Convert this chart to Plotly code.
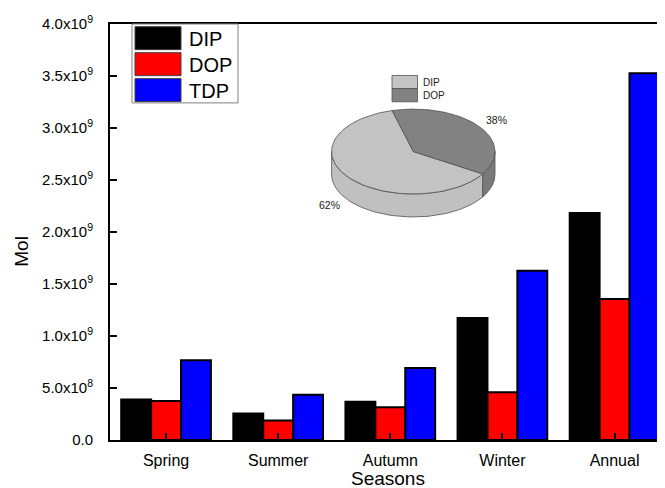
import numpy as np
import plotly.graph_objects as go

# ---------------- data ----------------
seasons = ["Spring", "Summer", "Autumn", "Winter", "Annual"]
dip = [3.89e8, 2.55e8, 3.67e8, 1.174e9, 2.182e9]
dop = [3.76e8, 1.87e8, 3.15e8, 4.59e8, 1.356e9]
tdp = [7.67e8, 4.34e8, 6.93e8, 1.628e9, 3.527e9]
series_names = ["DIP", "DOP", "TDP"]
series_colors = ["#000000", "#ff0000", "#0000ff"]

y_tickvals = [0, 5e8, 1e9, 1.5e9, 2e9, 2.5e9, 3e9, 3.5e9, 4e9]
y_ticktext = ["0.0", "5.0x10<sup>8</sup>", "1.0x10<sup>9</sup>", "1.5x10<sup>9</sup>",
              "2.0x10<sup>9</sup>", "2.5x10<sup>9</sup>", "3.0x10<sup>9</sup>",
              "3.5x10<sup>9</sup>", "4.0x10<sup>9</sup>"]

pie_labels = ["DIP", "DOP"]
pie_shares = [62, 38]
pie_colors = ["#c3c3c3", "#828282"]
pie_side_colors = ["#c0c0c0", "#7a7a7a"]

FONT = "Liberation Sans, Arial, sans-serif"
# the page body has an 8px margin, so the figure is placed at (8, 8)
OFF = 8
REF_L, REF_T, REF_R, REF_B = 110, 24, 665, 440.5   # plot area in window pixels
PW, PH = REF_R - REF_L, REF_B - REF_T
W, H = 665 - OFF, 488 - OFF
ML, MT = REF_L - OFF, REF_T - OFF
MR, MB = 0, H - MT - PH

fig = go.Figure()

for name, vals, col in zip(series_names, [dip, dop, tdp], series_colors):
    fig.add_trace(go.Bar(x=seasons, y=vals, name=name,
                         marker=dict(color=col, line=dict(color="black", width=2)),
                         showlegend=False))

# ---------------- pseudo-3D pie on overlay axes (pixel-like units) ----------------
def P(px, py):
    return px - REF_L, REF_B - py

cx, cy = P(413.3, 151.7)
rx, ry, depth = 81.7, 42.5, 23.0
start = 105.0  # parametric angle where DOP slice starts, runs clockwise
dop_span = 360.0 * pie_shares[1] / sum(pie_shares)
dop_end = start - dop_span
dip_end = dop_end - 360.0 * pie_shares[0] / sum(pie_shares)

def arc(a0, a1, n=80, dy=0.0):
    t = np.radians(np.linspace(a0, a1, n))
    return cx + rx * np.cos(t), cy + ry * np.sin(t) - dy

def side(a0, a1):
    x1, y1 = arc(a0, a1)
    x2, y2 = arc(a1, a0, dy=depth)
    return np.concatenate([x1, x2, x1[:1]]), np.concatenate([y1, y2, y1[:1]])

def wedge(a0, a1):
    x1, y1 = arc(a0, a1)
    return np.concatenate([[cx], x1, [cx]]), np.concatenate([[cy], y1, [cy]])

outline = dict(color="#505050", width=0.8)
sx, sy = side(-180, dop_end)
fig.add_trace(go.Scatter(x=sx, y=sy, xaxis="x2", yaxis="y2", mode="lines", fill="toself",
                         fillcolor=pie_side_colors[0], line=outline, showlegend=False, hoverinfo="skip"))
sx, sy = side(dop_end, 0)
fig.add_trace(go.Scatter(x=sx, y=sy, xaxis="x2", yaxis="y2", mode="lines", fill="toself",
                         fillcolor=pie_side_colors[1], line=outline, showlegend=False, hoverinfo="skip"))
wx, wy = wedge(dop_end, dip_end)
fig.add_trace(go.Scatter(x=wx, y=wy, xaxis="x2", yaxis="y2", mode="lines", fill="toself",
                         fillcolor=pie_colors[0], line=outline, showlegend=False, hoverinfo="skip"))
wx, wy = wedge(start, dop_end)
fig.add_trace(go.Scatter(x=wx, y=wy, xaxis="x2", yaxis="y2", mode="lines", fill="toself",
                         fillcolor=pie_colors[1], line=outline, showlegend=False, hoverinfo="skip"))

shapes = []
annotations = []

for txt, (px, py) in zip([f"{pie_shares[1]}%", f"{pie_shares[0]}%"], [(496, 120), (329.5, 205.5)]):
    x, y = P(px, py)
    annotations.append(dict(x=x, y=y, xref="x2", yref="y2", text=txt, showarrow=False,
                            font=dict(family=FONT, size=10.5, color="#222")))

for i, (lab, col) in enumerate(zip(pie_labels, pie_colors)):
    x0, y0 = P(392, 75.5 + i * 13.2)
    x1, y1 = P(417.5, 75.5 + (i + 1) * 13.2)
    shapes.append(dict(type="rect", xref="x2", yref="y2", x0=x0, x1=x1, y0=y0, y1=y1,
                       fillcolor=col, line=dict(color="#505050", width=0.8)))
    tx, ty = P(421, 75.5 + (i + 0.5) * 13.2)
    annotations.append(dict(x=tx, y=ty, xref="x2", yref="y2", text=lab, showarrow=False,
                            xanchor="left", font=dict(family=FONT, size=10, color="#222")))

def paper(px, py):
    return (px - REF_L) / PW, (REF_B - py) / PH

bx0, by0 = paper(132, 24)
bx1, by1 = paper(238, 103)
shapes.append(dict(type="rect", xref="paper", yref="paper", x0=bx0, x1=bx1, y0=by0, y1=by1,
                   fillcolor="white", line=dict(color="#808080", width=1), layer="above"))
for i, (name, col) in enumerate(zip(series_names, series_colors)):
    top = 26.7 + i * 26
    x0, y0 = paper(135, top)
    x1, y1 = paper(181, top + 23)
    shapes.append(dict(type="rect", xref="paper", yref="paper", x0=x0, x1=x1, y0=y0, y1=y1,
                       fillcolor=col, line=dict(color="#404040", width=1), layer="above"))
    tx, ty = paper(187, top + 12)
    annotations.append(dict(x=tx, y=ty, xref="paper", yref="paper", text=name, showarrow=False,
                            xanchor="left", yanchor="middle",
                            font=dict(family=FONT, size=20, color="black")))

mx, my = paper(22, 252)
annotations.append(dict(x=mx, y=my, xref="paper", yref="paper", text="Mol", showarrow=False,
                        textangle=-90, xanchor="center", yanchor="middle",
                        font=dict(family=FONT, size=19, color="black")))
sx_, sy_ = paper(388, 479)
annotations.append(dict(x=sx_, y=sy_, xref="paper", yref="paper", text="Seasons", showarrow=False,
                        xanchor="center", yanchor="middle",
                        font=dict(family=FONT, size=19, color="black")))

fig.update_layout(
    width=W, height=H,
    margin=dict(l=ML, r=MR, t=MT, b=MB, pad=0),
    paper_bgcolor="white", plot_bgcolor="white",
    barmode="group", bargap=0.2, bargroupgap=0,
    font=dict(family=FONT, color="black"),
    xaxis=dict(type="category", range=[-0.5, 4.45], showline=True, linecolor="black", linewidth=2,
               mirror=True, ticks="inside", ticklen=7, tickwidth=2, tickcolor="black",
               showgrid=False, zeroline=False, tickfont=dict(family=FONT, size=16),
               ticklabelstandoff=5),
    yaxis=dict(range=[0, 4e9], showline=True, linecolor="black", linewidth=2, mirror=False,
               ticks="inside", ticklen=7, tickwidth=2, tickcolor="black",
               tickvals=y_tickvals, ticktext=y_ticktext, showgrid=False, zeroline=False,
               tickfont=dict(family=FONT, size=15), ticklabelstandoff=12),
    xaxis2=dict(overlaying="x", range=[0, PW], visible=False, fixedrange=True),
    yaxis2=dict(overlaying="y", range=[0, PH], visible=False, fixedrange=True),
    shapes=shapes, annotations=annotations,
)

fig.write_html("out.html")
